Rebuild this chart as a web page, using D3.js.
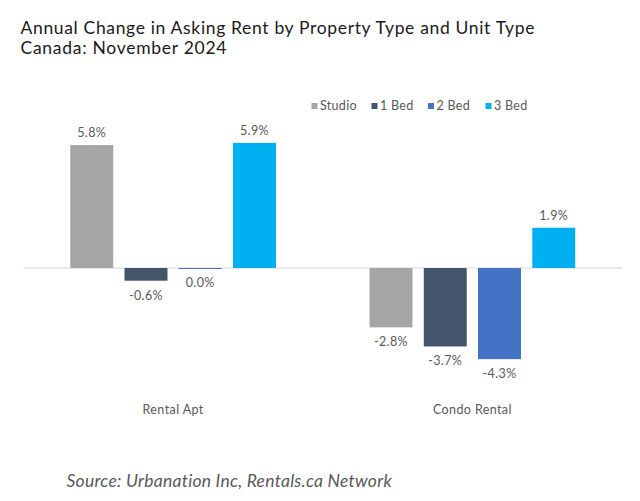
<!DOCTYPE html>
<html><head><meta charset="utf-8">
<script src="https://cdn.jsdelivr.net/npm/d3@7"></script>
<style>body{margin:0;background:#fff;}svg{display:block;}</style>
</head><body>
<svg id="chart" width="640" height="501"></svg>
<script>
const categories = ["Rental Apt", "Condo Rental"];
const seriesNames = ["Studio", "1 Bed", "2 Bed", "3 Bed"];
const studio = [5.8, -2.8];
const oneBed = [-0.6, -3.7];
const twoBed = [0.0, -4.3];
const threeBed = [5.9, 1.9];
const seriesValues = [studio, oneBed, twoBed, threeBed];
const colors = ["#a5a5a5", "#44546a", "#4472c4", "#00b0f0"];
const titleLines = ["Annual Change in Asking Rent by Property Type and Unit Type", "Canada: November 2024"];
const sourceText = "Source: Urbanation Inc, Rentals.ca Network";

const svg = d3.select("#chart");
const font = "Lato, 'Noto Sans', sans-serif";

// widen text with letter-spacing to match a target width
function fit(node, target) {
  const n = node.getNumberOfChars();
  const w = node.getComputedTextLength();
  if (n > 1) node.setAttribute("letter-spacing", ((target - w) / (n - 1)).toFixed(3));
}

// Title
const titles = svg.selectAll("text.title").data(titleLines).enter().append("text")
  .attr("class","title")
  .attr("x", 20.5).attr("y", (d,i)=> 33.5 + i*20.7)
  .attr("font-family", font).attr("font-size", 17.5).attr("fill", "#1a1a1a")
  .text(d=>d);
fit(titles.nodes()[0], 514);
fit(titles.nodes()[1], 206);

const x0 = d3.scaleBand().domain(categories).range([23.5, 622]).padding(0);
const x1 = d3.scaleBand().domain(seriesNames).range([0, x0.bandwidth()])
  .paddingInner(0.208).paddingOuter(0.862);
const y = d3.scaleLinear().domain([-5, 7]).range([374, 119.6]);

// zero line
svg.append("line").attr("x1", x0.range()[0]).attr("x2", x0.range()[1])
  .attr("y1", y(0)).attr("y2", y(0)).attr("stroke", "#e3e3e3").attr("stroke-width", 1.5);

const data = [];
categories.forEach((c, ci) => seriesNames.forEach((s, si) => data.push({c, s, si, v: seriesValues[si][ci]})));

const fmt = v => v.toFixed(1) + "%";

const g = svg.append("g");
g.selectAll("rect").data(data).enter().append("rect")
  .attr("x", d => x0(d.c) + x1(d.s))
  .attr("width", x1.bandwidth())
  .attr("y", d => d.v === 0 ? y(0) : Math.min(y(0), y(d.v)))
  .attr("height", d => d.v === 0 ? 1 : Math.abs(y(d.v) - y(0)))
  .attr("fill", d => colors[d.si]);

g.selectAll("text.lbl").data(data).enter().append("text")
  .attr("class","lbl")
  .attr("x", d => x0(d.c) + x1(d.s) + x1.bandwidth()/2)
  .attr("y", d => d.v > 0 ? y(d.v) - 12 : y(d.v) + 14.5)
  .attr("dy", "0.35em")
  .attr("text-anchor", "middle")
  .attr("font-family", font).attr("font-size", 12.5).attr("letter-spacing", 0.4).attr("fill", "#595959")
  .text(d => fmt(d.v));

// category axis labels
const xAxis = d3.axisBottom(x0).tickSize(0).tickPadding(0);
const ax = svg.append("g").attr("transform", "translate(0,405)").call(xAxis);
ax.select(".domain").remove();
ax.selectAll("text").attr("font-family", font).attr("font-size", 12.5).attr("fill", "#595959").attr("dy","0.7em")
  .attr("letter-spacing", 0.4);

// legend
const legendX = [311.5, 371.5, 428, 485.5];
const leg = svg.selectAll("g.leg").data(seriesNames).enter().append("g")
  .attr("class","leg").attr("transform", (d,i)=>`translate(${legendX[i]},106)`);
leg.append("rect").attr("x",0).attr("y",-3).attr("width",6).attr("height",6).attr("fill",(d,i)=>colors[i]);
leg.append("text").attr("x", 8.5).attr("y",0).attr("dy","0.35em")
  .attr("font-family", font).attr("font-size", 12.5).attr("letter-spacing", 0.3).attr("fill", "#595959").text(d=>d);

// source
const src = svg.append("text").attr("x", 66.5).attr("y", 486.5)
  .attr("font-family", font).attr("font-size", 17.5).attr("font-style","italic").attr("fill", "#595959")
  .text(sourceText);
fit(src.node(), 325);
</script>
</body></html>
